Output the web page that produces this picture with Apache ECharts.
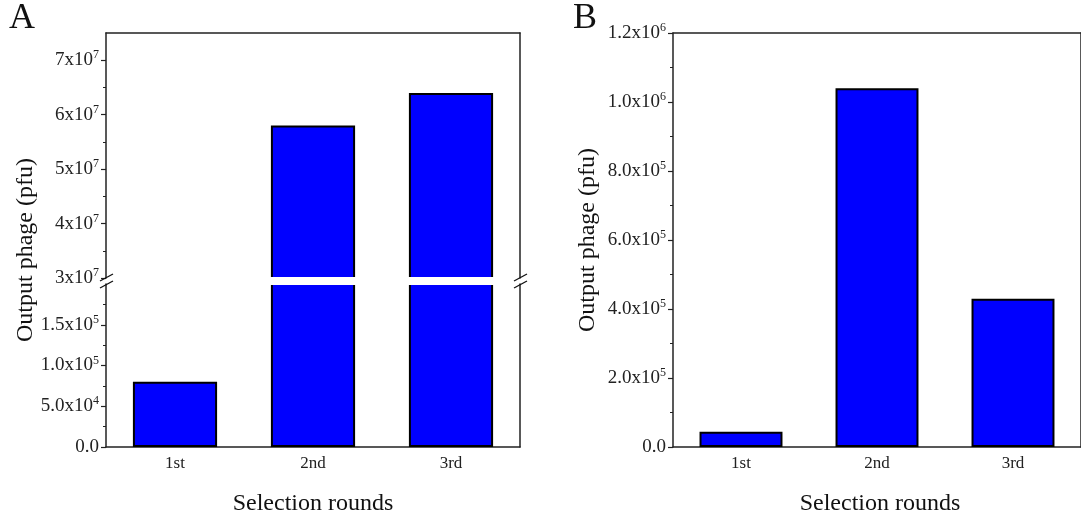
<!DOCTYPE html>
<html>
<head>
<meta charset="utf-8">
<script src="https://cdn.jsdelivr.net/npm/echarts@6/dist/echarts.min.js"></script>
<style>
  html, body { margin: 0; padding: 0; background: #fff; }
  #chart { width: 1081px; height: 517px; }
</style>
</head>
<body>
<div id="chart"></div>
<script>
// data
const rounds = ['1st', '2nd', '3rd'];
const phageA = [8.0e4, 5.8e7, 6.4e7];
const phageB = [4.4e4, 1.04e6, 4.3e5];

// tick labels ([value, mantissa, exponent]) and minor tick values
const ticksAUpper = [[3e7, '3x10', '7'], [4e7, '4x10', '7'], [5e7, '5x10', '7'], [6e7, '6x10', '7'], [7e7, '7x10', '7']];
const ticksALower = [[0, '0.0', ''], [5e4, '5.0x10', '4'], [1e5, '1.0x10', '5'], [1.5e5, '1.5x10', '5']];
const ticksB = [[0, '0.0', ''], [2e5, '2.0x10', '5'], [4e5, '4.0x10', '5'], [6e5, '6.0x10', '5'],
  [8e5, '8.0x10', '5'], [1e6, '1.0x10', '6'], [1.2e6, '1.2x10', '6']];
const minorAUpper = [3.5e7, 4.5e7, 5.5e7, 6.5e7];
const minorALower = [2.5e4, 7.5e4, 1.25e5, 1.75e5];
const minorB = [1e5, 3e5, 5e5, 7e5, 9e5, 1.1e6];

const FONT = 'Liberation Serif';
const AXIS_COLOR = '#222';

function tickFormatter(ticks) {
  return function (v) {
    const t = ticks.find((d) => Math.abs(d[0] - v) < 1e-6 * Math.max(1, d[0]));
    if (!t) return '';
    return t[2] ? '{b|' + t[1] + '}{s|' + t[2] + '}' : '{b|' + t[1] + '}';
  };
}

const labelRich = {
  b: { fontSize: 19, fontFamily: FONT, color: '#222', lineHeight: 22 },
  s: { fontSize: 12, fontFamily: FONT, color: '#222', verticalAlign: 'top', lineHeight: 12 }
};

function valueAxis(grid, min, max, ticks) {
  const vals = ticks.map((d) => d[0]);
  return {
    type: 'value', gridIndex: grid, position: 'left', min: min, max: max,
    axisLine: { show: true, lineStyle: { color: AXIS_COLOR, width: 1.5 } },
    axisTick: { show: true, inside: false, length: 5, customValues: vals, lineStyle: { color: AXIS_COLOR, width: 1.2 } },
    splitLine: { show: false },
    axisLabel: { margin: 7, customValues: vals, formatter: tickFormatter(ticks), rich: labelRich }
  };
}

// second left axis on same grid, only for the short minor ticks
function minorAxis(grid, min, max, minors) {
  return {
    type: 'value', gridIndex: grid, position: 'left', min: min, max: max,
    axisLine: { show: false },
    axisTick: { show: true, inside: false, length: 3, customValues: minors, lineStyle: { color: AXIS_COLOR, width: 1 } },
    axisLabel: { show: false }, splitLine: { show: false }
  };
}

function frameY(grid, min, max) {
  return {
    type: 'value', gridIndex: grid, position: 'right', min: min, max: max,
    axisLine: { show: true, lineStyle: { color: AXIS_COLOR, width: 1.5 } },
    axisTick: { show: false }, axisLabel: { show: false }, splitLine: { show: false }
  };
}

function catAxis(grid, pos, labels) {
  return {
    type: 'category', gridIndex: grid, position: pos, data: rounds,
    axisLine: { show: true, onZero: false, lineStyle: { color: AXIS_COLOR, width: 1.5 } },
    axisTick: { show: false },
    axisLabel: { show: labels, margin: 8, color: '#222', fontSize: 17, fontFamily: FONT }
  };
}

function bars(xi, yi, data) {
  return {
    type: 'bar', xAxisIndex: xi, yAxisIndex: yi, data: data, barWidth: '61%', clip: true,
    itemStyle: { color: '#0000ff', borderColor: '#000', borderWidth: 2 }
  };
}

const chart = echarts.init(document.getElementById('chart'));

const nameStyle = { fontSize: 24, fontFamily: FONT, fill: '#111', align: 'center', verticalAlign: 'middle' };

const option = {
  animation: false,
  backgroundColor: '#fff',
  grid: [
    { left: 106, top: 33, width: 414, height: 245 },
    { left: 106, top: 284, width: 414, height: 163 },
    { left: 673, top: 33, width: 414, height: 414 }
  ],
  xAxis: [
    catAxis(0, 'top', false),
    catAxis(1, 'bottom', true),
    catAxis(2, 'bottom', true),
    catAxis(2, 'top', false)
  ],
  yAxis: [
    valueAxis(0, 3e7, 7.5e7, ticksAUpper),
    frameY(0, 3e7, 7.5e7),
    valueAxis(1, 0, 2e5, ticksALower),
    frameY(1, 0, 2e5),
    valueAxis(2, 0, 1.2e6, ticksB),
    frameY(2, 0, 1.2e6),
    minorAxis(0, 3e7, 7.5e7, minorAUpper),
    minorAxis(1, 0, 2e5, minorALower),
    minorAxis(2, 0, 1.2e6, minorB)
  ],
  series: [
    bars(0, 0, phageA),
    bars(1, 2, phageA),
    bars(2, 4, phageB)
  ],
  graphic: [
    { type: 'text', left: 9, top: 1, style: { text: 'A', fontSize: 36, fontFamily: FONT, fill: '#111' } },
    { type: 'text', left: 573, top: 1, style: { text: 'B', fontSize: 36, fontFamily: FONT, fill: '#111' } },
    { type: 'text', x: 26, y: 250, rotation: Math.PI / 2, style: nameStyle },
    { type: 'text', x: 588, y: 240, rotation: Math.PI / 2, style: nameStyle },
    { type: 'text', x: 313, y: 504, style: nameStyle },
    { type: 'text', x: 880, y: 504, style: nameStyle },
    // white gap of the axis break
    { type: 'rect', z: 100, shape: { x: 107, y: 277, width: 412, height: 8 }, style: { fill: '#fff' } },
    // axis break marks
    { type: 'line', z: 101, shape: { x1: 100, y1: 281, x2: 113, y2: 274 }, style: { stroke: '#111', lineWidth: 1.3 } },
    { type: 'line', z: 101, shape: { x1: 100, y1: 288, x2: 113, y2: 281 }, style: { stroke: '#111', lineWidth: 1.3 } },
    { type: 'line', z: 101, shape: { x1: 514, y1: 281, x2: 527, y2: 274 }, style: { stroke: '#111', lineWidth: 1.3 } },
    { type: 'line', z: 101, shape: { x1: 514, y1: 288, x2: 527, y2: 281 }, style: { stroke: '#111', lineWidth: 1.3 } }
  ]
};
option.graphic[2].style = Object.assign({ text: 'Output phage (pfu)' }, nameStyle);
option.graphic[3].style = Object.assign({ text: 'Output phage (pfu)' }, nameStyle);
option.graphic[4].style = Object.assign({ text: 'Selection rounds' }, nameStyle);
option.graphic[5].style = Object.assign({ text: 'Selection rounds' }, nameStyle);

chart.setOption(option);
</script>
</body>
</html>
